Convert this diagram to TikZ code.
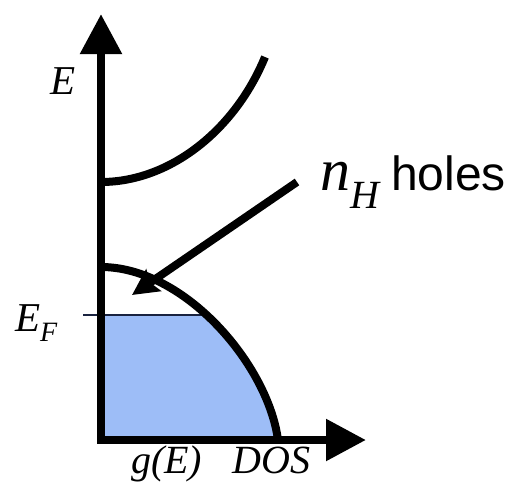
\documentclass[tikz,border=0pt]{standalone}
\usepackage{fontspec}
\setmainfont{Liberation Serif}
\newfontfamily\labelsans{Liberation Sans}
\usetikzlibrary{arrows.meta}
\definecolor{fillblue}{HTML}{9DBDF7}
\definecolor{efline}{HTML}{1A2340}
\tikzset{
  thickline/.style={line width=8pt},
  axisline/.style={line width=8.5pt, line join=miter,
    {Triangle[length=40pt,width=40pt]}-{Triangle[length=40pt,width=40pt]}},
  pointer/.style={line width=8pt, -{Stealth[length=26pt,width=26pt,inset=4pt]}},
  serifit/.style={font=\fontsize{41}{41}\selectfont\itshape, inner sep=0pt},
}
\begin{document}
\begin{tikzpicture}[x=1pt,y=1pt]
\useasboundingbox (0,0) rectangle (512,-485);
% filled states below E_F
\begin{scope}
  \clip (101,-315) rectangle (400,-440);
  \fill[fillblue] (101,-267) .. controls (185,-267) and (268,-365) .. (278,-440) -- (101,-440) -- cycle;
\end{scope}
% Fermi level line and tick
\coordinate (eftick) at (83,-315);
\coordinate (efend) at (208,-315);
\draw[efline, line width=1.3pt] (eftick) -- (efend);
% valence band DOS
\draw[thickline] (101,-267) .. controls (185,-267) and (268,-365) .. (278,-440);
% conduction band DOS
\draw[thickline] (101,-182) .. controls (170,-182) and (235,-130) .. (265,-57);
% axes
\coordinate (etop) at (101,-14);
\coordinate (origin) at (101,-440);
\coordinate (gend) at (366,-440);
\draw[axisline] (etop) -- (origin) -- (gend);
% labels
\node[serifit, anchor=base west] (elabel) at (50,-94) {E};
\node[font=\fontsize{41}{41}\selectfont\itshape, inner sep=0pt, anchor=base west] (eflabel) at (15,-331)
  {E\raisebox{-10pt}{\fontsize{28}{28}\selectfont F}};
\node[font=\fontsize{40}{40}\selectfont\itshape, inner sep=0pt, anchor=base west] (glabel) at (131,-473)
  {g(E)\hspace{30pt}DOS};
\node[inner sep=0pt, anchor=base west] (holes) at (320,-190)
  {{\fontsize{60}{60}\selectfont\itshape n}\raisebox{-18pt}{\fontsize{40}{40}\selectfont\itshape H}\hspace{12pt}{\labelsans\fontsize{48}{48}\selectfont holes}};
% pointer arrow
\coordinate (ptail) at (297,-182);
\coordinate (ptip) at (132,-295);
\draw[pointer] (ptail) -- (ptip);
\end{tikzpicture}
\end{document}
